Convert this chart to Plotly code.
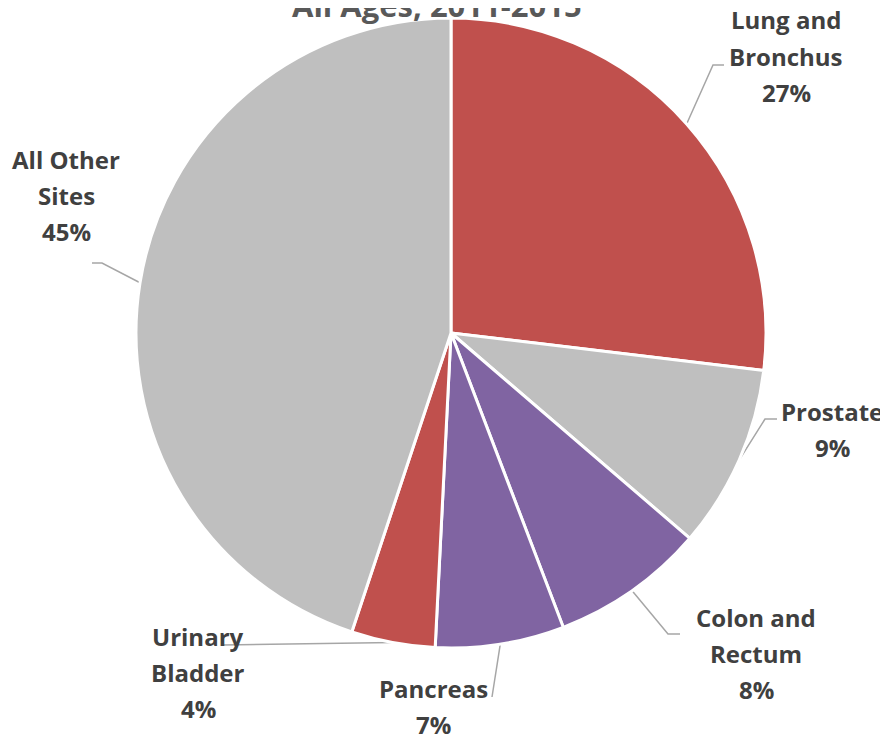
import math
import plotly.graph_objects as go

# ---- data ----
sites = ["Lung and Bronchus", "Prostate", "Colon and Rectum", "Pancreas", "Urinary Bladder", "All Other Sites"]
label_lines = [["Lung and", "Bronchus"], ["Prostate"], ["Colon and", "Rectum"], ["Pancreas"], ["Urinary", "Bladder"], ["All Other", "Sites"]]
shares = [26.9, 9.4, 7.9, 6.6, 4.3, 44.9]
pct_text = ["27%", "9%", "8%", "7%", "4%", "45%"]
colors = ["#C0504D", "#BFBFBF", "#8064A2", "#8064A2", "#C0504D", "#BFBFBF"]
title_text = "All Ages, 2011-2015"

# ---- layout ----
W, H = 888, 736
OFF = 8  # page body margin
ML, MR, MT, MB = 136 - OFF, 130, 18 - OFF, 96
PW, PH = W - ML - MR, H - MT - MB

def px(x):
    return (x - OFF - ML) / PW

def py(y):
    return (H - MB - (y - OFF)) / PH

# label layout (page pixels): elbow point, end of horizontal segment, text center x, first line y
label_layout = [
    dict(elbow=(713, 65), end=(724, 65), tx=786, ty=20),
    dict(elbow=(765, 419), end=(777, 419), tx=832, ty=411),
    dict(elbow=(668, 634), end=(680, 634), tx=756, ty=617),
    dict(elbow=(492, 697), end=(492, 697), tx=433, ty=688),
    dict(elbow=(222, 645), end=(222, 645), tx=198, ty=636),
    dict(elbow=(102, 263), end=(92, 263), tx=66, ty=159),
]
LINE_H = 36
FONT = "Open Sans"
TXT_COLOR = "#404040"

fig = go.Figure(go.Pie(
    labels=sites, values=shares, sort=False, direction="clockwise", rotation=0,
    marker=dict(colors=colors, line=dict(color="white", width=3)),
    textinfo="none", hoverinfo="label+percent", showlegend=False,
))

shapes, annotations = [], []
total = sum(shares)
cum = 0.0
for i, v in enumerate(shares):
    mid = (cum + v / 2) / total * 2 * math.pi
    cum += v
    ax = 0.5 + 0.5 * math.sin(mid)
    ay = 0.5 + 0.5 * math.cos(mid)
    lay = label_layout[i]
    ex, ey = px(lay["elbow"][0]), py(lay["elbow"][1])
    fx, fy = px(lay["end"][0]), py(lay["end"][1])
    path = f"M {ax},{ay} L {ex},{ey} L {fx},{fy}"
    shapes.append(dict(type="path", path=path, xref="paper", yref="paper",
                       line=dict(color="#A6A6A6", width=1.5), layer="below"))
    lines = label_lines[i] + [pct_text[i]]
    for k, t in enumerate(lines):
        annotations.append(dict(
            text=f"<b>{t}</b>", x=px(lay["tx"]), y=py(lay["ty"] + k * LINE_H),
            xref="paper", yref="paper", xanchor="center", yanchor="middle",
            showarrow=False, font=dict(family=FONT, size=24, color=TXT_COLOR),
        ))

annotations.append(dict(
    text=f"<b>{title_text}</b>", x=px(437), y=py(5), xref="paper", yref="paper",
    xanchor="center", yanchor="middle", showarrow=False,
    font=dict(family=FONT, size=31, color="#595959"),
))

fig.update_layout(
    width=W, height=H, margin=dict(l=ML, r=MR, t=MT, b=MB),
    paper_bgcolor="white", plot_bgcolor="white",
    shapes=shapes, annotations=annotations,
)
fig.write_html("out.html")
